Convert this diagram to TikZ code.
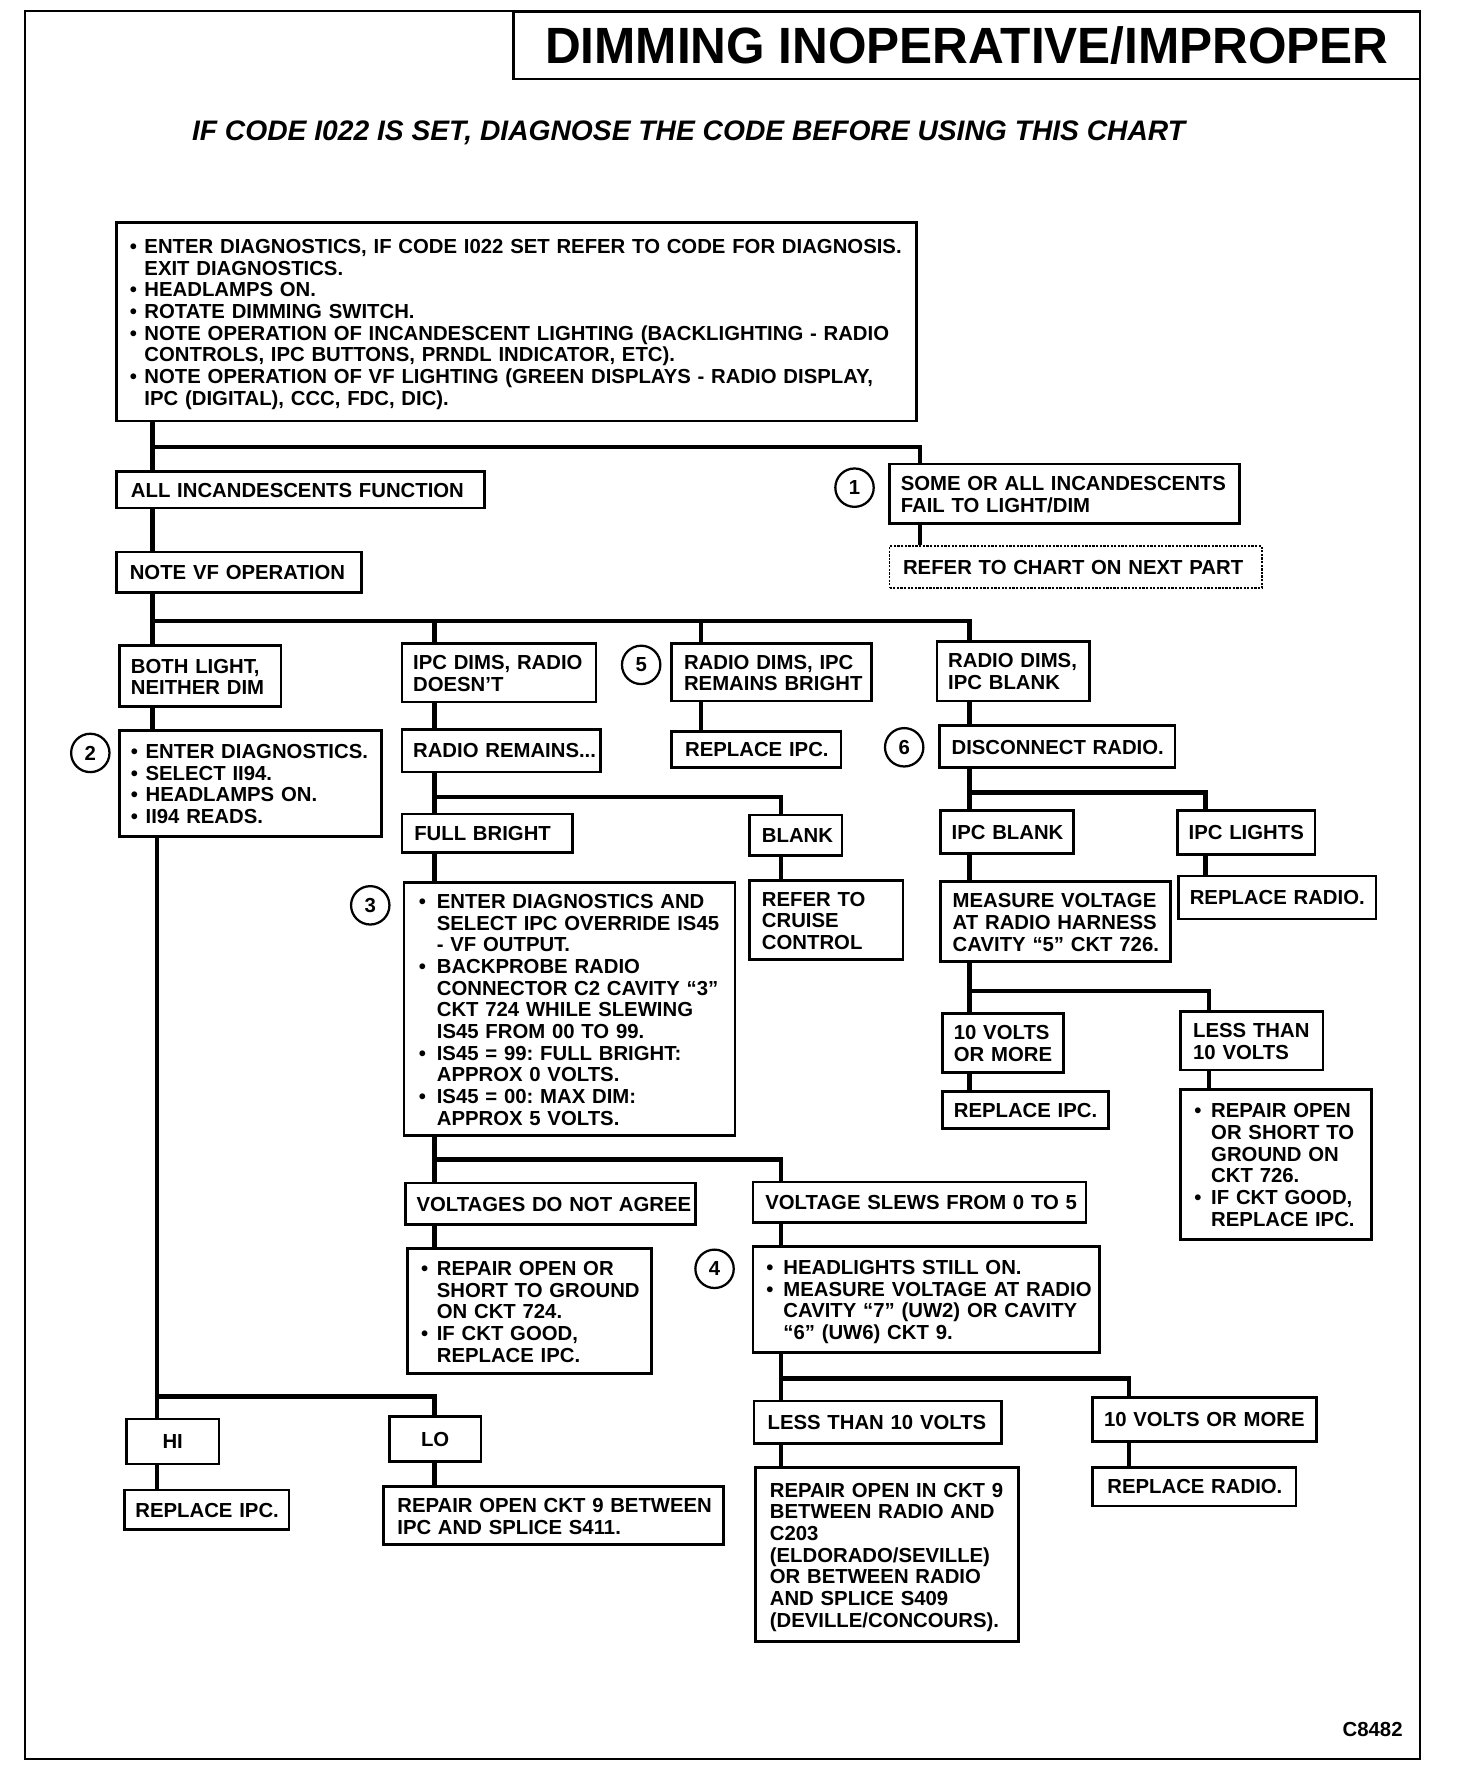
\documentclass[tikz,border=0pt]{standalone}
\usepackage{fontspec}
\setmainfont{Liberation Sans}
\frenchspacing
\newcommand\fs{\fontsize{18}{19.2}\selectfont\bfseries\frenchspacing}
\newcommand\bxtab[1]{\raisebox{0pt}[\height][\dimexpr\depth-6pt\relax]{\begin{tabular}{@{}l@{}}#1\end{tabular}}}
\newcommand\bul[1][13pt]{\makebox[#1][l]{•}\ignorespaces}
\newcommand\ind[1][13pt]{\hspace*{#1}\ignorespaces}
\tikzset{
  box/.style={draw, line width=2.4pt, fill=white, inner sep=0pt, align=left, font=\fs},
  conn/.style={line width=4pt},
  num/.style={draw, circle, line width=2pt, minimum size=34pt, inner sep=0pt, font=\fs},
}
\newcommand\bx[8][]{%
  \pgfmathsetmacro\bxcx{(#3+#5)/2}%
  \pgfmathsetmacro\bxcy{(#4+#6)/2}%
  \pgfmathsetmacro\bxw{#5-#3}%
  \pgfmathsetmacro\bxh{#6-#4}%
  \pgfmathsetmacro\bxtw{#5-#3-2*#7}%
  \node[box,minimum width=\bxw pt,minimum height=\bxh pt,text width=\bxtw pt,#1] (#2) at (\bxcx,\bxcy) {\bxtab{#8}};}
\begin{document}
\begin{tikzpicture}[x=1pt,y=-1pt]
\useasboundingbox (0,0) rectangle (1290,1568);
\draw[line width=2pt] (22,10) rectangle (1258,1558);
\node[draw, line width=2.5pt, minimum width=803pt, minimum height=60pt, inner sep=0pt,
  font=\fontsize{43}{43}\selectfont\bfseries] (title) at (856.5,40) {\scalebox{1.02}[1.05]{DIMMING INOPERATIVE/IMPROPER}};
\node[font=\fontsize{25}{25}\selectfont\bfseries\itshape] (sub) at (610,118)
  {IF CODE I022 IS SET, DIAGNOSE THE CODE BEFORE USING THIS CHART};

\bx{main}{103}{197}{812}{373}{12}{%
\bul ENTER DIAGNOSTICS, IF CODE I022 SET REFER TO CODE FOR DIAGNOSIS.\\
\ind EXIT DIAGNOSTICS.\\
\bul HEADLAMPS ON.\\
\bul ROTATE DIMMING SWITCH.\\
\bul NOTE OPERATION OF INCANDESCENT LIGHTING (BACKLIGHTING - RADIO\\
\ind CONTROLS, IPC BUTTONS, PRNDL INDICATOR, ETC).\\
\bul NOTE OPERATION OF VF LIGHTING (GREEN DISPLAYS - RADIO DISPLAY,\\
\ind IPC (DIGITAL), CCC, FDC, DIC).}
\bx{alli}{103}{418}{429}{450}{13}{ALL INCANDESCENTS FUNCTION}
\bx{some}{788}{411}{1098}{464}{10}{SOME OR ALL INCANDESCENTS\\FAIL TO LIGHT/DIM}
\bx[line width=1.6pt, dash pattern=on 2pt off 1.2pt]{refer}{788}{484}{1118}{521}{12}{REFER TO CHART ON NEXT PART}
\bx{notevf}{103}{489}{320}{525}{12}{NOTE VF OPERATION}
\bx{both}{106}{572}{249}{626}{10}{BOTH LIGHT,\\NEITHER DIM}
\bx{ipcdims}{356}{570}{528}{622}{10}{IPC DIMS, RADIO\\DOESN'T}
\bx{rdims}{595}{570}{772}{621}{11}{RADIO DIMS, IPC\\REMAINS BRIGHT}
\bx{rblank}{830}{568}{965}{621}{10}{RADIO DIMS,\\IPC BLANK}
\bx{diag2}{106}{647}{338}{741}{10}{%
\bul ENTER DIAGNOSTICS.\\
\bul SELECT II94.\\
\bul HEADLAMPS ON.\\
\bul II94 READS.}
\bx{rrem}{356}{646}{532}{684}{10}{RADIO REMAINS...}
\bx{repipc1}{595}{648}{745}{680}{12}{REPLACE IPC.}
\bx{disc}{832}{643}{1041}{680}{11}{DISCONNECT RADIO.}
\bx{full}{356}{721}{507}{755}{11}{FULL BRIGHT}
\bx{blank}{664}{722}{746}{758}{11}{BLANK}
\bx{ipcblank}{833}{718}{951}{756}{10}{IPC BLANK}
\bx{ipclights}{1043}{718}{1165}{757}{10}{IPC LIGHTS}
\bx{b3}{358}{782}{651}{1006}{13}{%
\bul[16pt] ENTER DIAGNOSTICS AND\\
\ind[16pt] SELECT IPC OVERRIDE IS45\\
\ind[16pt] - VF OUTPUT.\\
\bul[16pt] BACKPROBE RADIO\\
\ind[16pt] CONNECTOR C2 CAVITY “3”\\
\ind[16pt] CKT 724 WHILE SLEWING\\
\ind[16pt] IS45 FROM 00 TO 99.\\
\bul[16pt] IS45 = 99: FULL BRIGHT:\\
\ind[16pt] APPROX 0 VOLTS.\\
\bul[16pt] IS45 = 00: MAX DIM:\\
\ind[16pt] APPROX 5 VOLTS.}
\bx{cruise}{664}{780}{800}{850}{11}{REFER TO\\CRUISE\\CONTROL}
\bx{measure}{833}{781}{1037}{852}{11}{MEASURE VOLTAGE\\AT RADIO HARNESS\\CAVITY “5” CKT 726.}
\bx{reprad1}{1044}{776}{1219}{814}{10}{REPLACE RADIO.}
\bx{tenv1}{835}{898}{942}{950}{10}{10 VOLTS\\OR MORE}
\bx{lessv1}{1046}{896}{1172}{948}{11}{LESS THAN\\10 VOLTS}
\bx{repipc2}{835}{967}{982}{1000}{10}{REPLACE IPC.}
\bx{rep726}{1046}{965}{1215}{1098}{12}{%
\bul[15pt] REPAIR OPEN\\
\ind[15pt] OR SHORT TO\\
\ind[15pt] GROUND ON\\
\ind[15pt] CKT 726.\\
\bul[15pt] IF CKT GOOD,\\
\ind[15pt] REPLACE IPC.}
\bx{vdna}{359}{1048}{616}{1085}{10}{VOLTAGES DO NOT AGREE}
\bx{vslew}{667}{1047}{962}{1083}{11}{VOLTAGE SLEWS FROM 0 TO 5}
\bx{rep724}{361}{1106}{577}{1217}{12}{%
\bul[14pt] REPAIR OPEN OR\\
\ind[14pt] SHORT TO GROUND\\
\ind[14pt] ON CKT 724.\\
\bul[14pt] IF CKT GOOD,\\
\ind[14pt] REPLACE IPC.}
\bx{b4}{667}{1104}{974}{1198}{12}{%
\bul[15pt] HEADLIGHTS STILL ON.\\
\bul[15pt] MEASURE VOLTAGE AT RADIO\\
\ind[15pt] CAVITY “7” (UW2) OR CAVITY\\
\ind[15pt] “6” (UW6) CKT 9.}
\bx{less10}{668}{1241}{887}{1279}{12}{LESS THAN 10 VOLTS}
\bx{ten10}{968}{1238}{1166}{1277}{10}{10 VOLTS OR MORE}
\bx{rep9}{669}{1300}{902}{1454}{13}{REPAIR OPEN IN CKT 9\\BETWEEN RADIO AND\\C203\\(ELDORADO/SEVILLE)\\OR BETWEEN RADIO\\AND SPLICE S409\\(DEVILLE/CONCOURS).}
\bx{reprad2}{968}{1300}{1148}{1334}{13}{REPLACE RADIO.}
\node[box, minimum width=82pt, minimum height=40pt, align=center] (hi) at (153,1277) {\bxtab{HI}};
\node[box, minimum width=81pt, minimum height=40pt, align=center] (lo) at (385.5,1275) {\bxtab{LO}};
\bx{repipc3}{110}{1320}{256}{1355}{10}{REPLACE IPC.}
\bx{rep9b}{340}{1317}{641}{1368}{12}{REPAIR OPEN CKT 9 BETWEEN\\IPC AND SPLICE S411.}

\node[num] (c1) at (757,432) {1};
\node[num] (c5) at (568,589) {5};
\node[num] (c2) at (80,667) {2};
\node[num] (c6) at (801,662) {6};
\node[num] (c3) at (328,802) {3};
\node[num] (c4) at (633,1124) {4};

\node[font=\fs] (code) at (1216,1532) {C8482};

\coordinate (xa) at (135,0);
\coordinate (xb) at (385,0);
\coordinate (xc) at (621,0);
\coordinate (xd) at (859,0);
\coordinate (xe) at (815,0);
\coordinate (xf) at (692,0);
\coordinate (xg) at (1068,0);
\coordinate (xh) at (1071,0);
\coordinate (xi) at (1000,0);
\coordinate (xk) at (139,0);
\coordinate (ja) at (135,396);
\coordinate (jb) at (135,550);
\coordinate (jc) at (385,706);
\coordinate (jd) at (859,702);
\coordinate (je) at (859,878);
\coordinate (jf) at (385,1027);
\coordinate (jg) at (692,1221);
\coordinate (jh) at (139,1237);

\draw[conn] (main.south -| xa) -- (alli.north -| xa);
\draw[conn] (ja) -| (some.north -| xe);
\draw[conn] (some.south -| xe) -- (refer.north -| xe);
\draw[conn] (alli.south -| xa) -- (notevf.north -| xa);
\draw[conn] (notevf.south -| xa) -- (both.north -| xa);
\draw[conn] (jb) -| (rblank.north -| xd);
\draw[conn] (xb |- jb) -- (ipcdims.north -| xb);
\draw[conn] (xc |- jb) -- (rdims.north -| xc);
\draw[conn] (both.south -| xa) -- (diag2.north -| xa);
\draw[conn] (ipcdims.south -| xb) -- (rrem.north -| xb);
\draw[conn] (rdims.south -| xc) -- (repipc1.north -| xc);
\draw[conn] (rblank.south -| xd) -- (disc.north -| xd);
\draw[conn] (rrem.south -| xb) -- (full.north -| xb);
\draw[conn] (jc) -| (blank.north -| xf);
\draw[conn] (disc.south -| xd) -- (ipcblank.north -| xd);
\draw[conn] (jd) -| (ipclights.north -| xg);
\draw[conn] (full.south -| xb) -- (b3.north -| xb);
\draw[conn] (blank.south -| xf) -- (cruise.north -| xf);
\draw[conn] (ipcblank.south -| xd) -- (measure.north -| xd);
\draw[conn] (ipclights.south -| xg) -- (reprad1.north -| xg);
\draw[conn] (measure.south -| xd) -- (tenv1.north -| xd);
\draw[conn] (je) -| (lessv1.north -| xh);
\draw[conn] (tenv1.south -| xd) -- (repipc2.north -| xd);
\draw[conn] (lessv1.south -| xh) -- (rep726.north -| xh);
\draw[conn] (b3.south -| xb) -- (vdna.north -| xb);
\draw[conn] (jf) -| (vslew.north -| xf);
\draw[conn] (vdna.south -| xb) -- (rep724.north -| xb);
\draw[conn] (vslew.south -| xf) -- (b4.north -| xf);
\draw[conn] (b4.south -| xf) -- (less10.north -| xf);
\draw[conn] (jg) -| (ten10.north -| xi);
\draw[conn] (less10.south -| xf) -- (rep9.north -| xf);
\draw[conn] (ten10.south -| xi) -- (reprad2.north -| xi);
\draw[conn] (diag2.south -| xk) -- (hi.north -| xk);
\draw[conn] (jh) -| (lo.north -| xb);
\draw[conn] (hi.south -| xk) -- (repipc3.north -| xk);
\draw[conn] (lo.south -| xb) -- (rep9b.north -| xb);
\end{tikzpicture}
\end{document}
